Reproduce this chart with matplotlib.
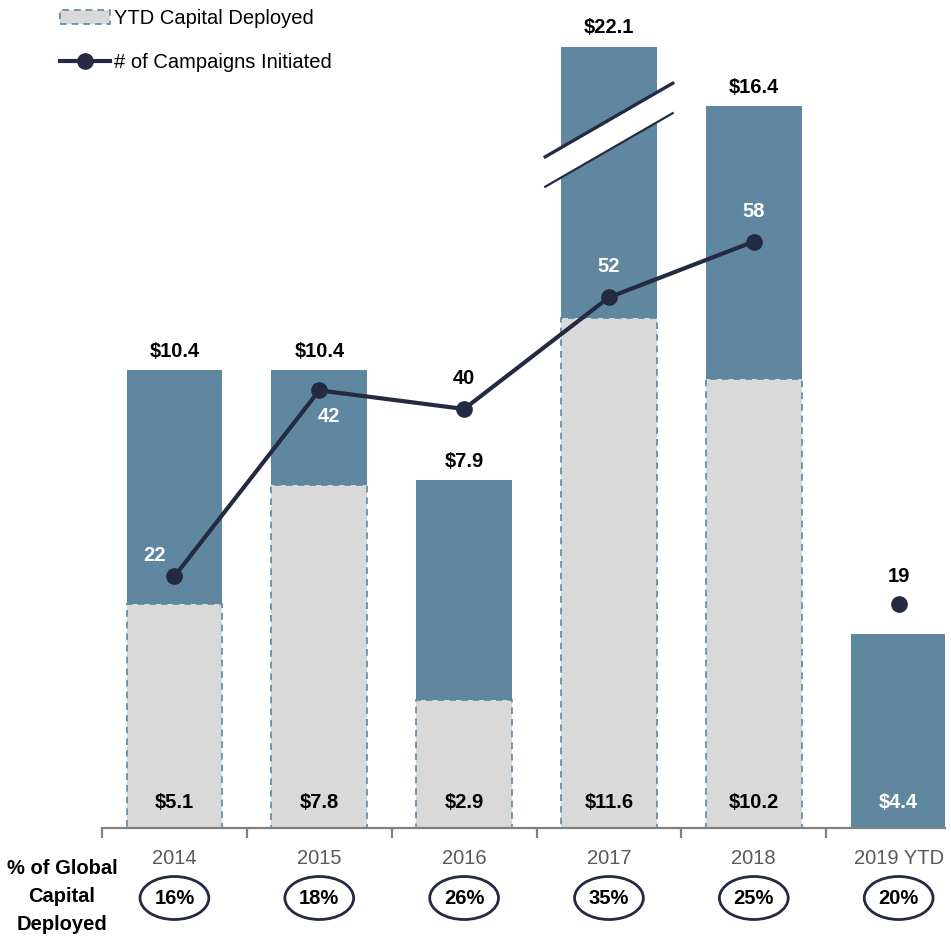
import numpy as np
import matplotlib
matplotlib.use("Agg")
import matplotlib.pyplot as plt
from matplotlib.patches import Patch, Ellipse, Polygon
from matplotlib.lines import Line2D
from matplotlib.transforms import blended_transform_factory
from matplotlib import font_manager

# data
years = ["2014", "2015", "2016", "2017", "2018", "2019 YTD"]
full_capital = [10.4, 10.4, 7.9, 22.1, 16.4, 4.4]
ytd_capital = [5.1, 7.8, 2.9, 11.6, 10.2, None]
campaigns = [22, 42, 40, 52, 58, 19]
pct_global = ["16%", "18%", "26%", "35%", "25%", "20%"]

names = {f.name for f in font_manager.fontManager.ttflist}
fam = [f for f in ["Liberation Sans Narrow", "Liberation Sans", "DejaVu Sans"] if f in names]
plt.rcParams["font.family"] = fam

BLUE = "#5f87a0"
GRAY = "#d9d9d9"
NAVY = "#232a42"
AXIS = "#808080"

W, H = 951, 940
fig = plt.figure(figsize=(W / 100, H / 100), dpi=100)
ax = fig.add_axes([102 / W, (H - 828) / H, (945 - 102) / W, (828 - 36) / H])

ymax = 18.0
cap = 17.75  # bars above this get a break
ax.set_ylim(0, ymax)
ax.set_xlim(-0.5, 5.32)
x = np.arange(len(years))
bw = 0.66

shown = [min(v, cap) for v in full_capital]
ax.bar(x, shown, width=bw, color=BLUE, zorder=1)
for i, v in enumerate(ytd_capital):
    if v is not None:
        ax.bar(i, v, width=bw, color=GRAY, edgecolor=BLUE, linestyle=(0, (4, 3)),
               linewidth=1.2, zorder=2)

# value labels
for i, (v, s) in enumerate(zip(full_capital, shown)):
    if ytd_capital[i] is None:
        continue
    ax.annotate(f"${v}", (i, s), xytext=(0, 7), textcoords="offset points",
                ha="center", va="bottom", fontsize=14.5, fontweight="bold", color="black")
for i, v in enumerate(ytd_capital):
    val = v if v is not None else full_capital[i]
    col = "black" if v is not None else "white"
    ax.annotate(f"${val}", (i, 0), xytext=(0, 18), textcoords="offset points",
                ha="center", va="center", fontsize=14.5, fontweight="bold", color=col)

# break marks on capped bar
for i, v in enumerate(full_capital):
    if v > cap:
        bx0, bx1 = i - 0.44, i + 0.44
        yc, slope, gap = 15.75, 1.9, 0.68
        top = [yc + 0.34 + slope * (bx - i) for bx in (bx0, bx1)]
        bot = [t - gap for t in top]
        ax.add_patch(Polygon([[bx0, top[0]], [bx1, top[1]], [bx1, bot[1]], [bx0, bot[0]]],
                             closed=True, color="white", zorder=3, clip_on=False))
        ax.plot([bx0, bx1], top, color=NAVY, lw=2.4, zorder=4, clip_on=False)
        ax.plot([bx0, bx1], bot, color=NAVY, lw=1.6, zorder=4, clip_on=False)

# campaigns line on secondary scale
ax2 = ax.twinx()
ax2.set_ylim(-5.05, 80.1)
ax2.axis("off")
ax2.plot(x[:5], campaigns[:5], color=NAVY, lw=3, marker="o", ms=11, zorder=5)
ax2.plot(x[5], campaigns[5], color=NAVY, marker="o", ms=11, ls="none", zorder=5)
lab_off = [(-14, 15), (7, -19), (0, 22), (0, 22), (0, 22), (0, 20)]
lab_col = ["white", "white", "black", "white", "white", "black"]
for i, n in enumerate(campaigns):
    ax2.annotate(str(n), (i, n), xytext=lab_off[i], textcoords="offset points",
                 ha="center", va="center", fontsize=14.5, fontweight="bold", color=lab_col[i])

# axes styling
for s in ["top", "right", "left"]:
    ax.spines[s].set_visible(False)
ax.spines["bottom"].set_color(AXIS)
ax.spines["bottom"].set_linewidth(1.6)
ax.set_yticks([])
ax.set_xticks(x)
ax.set_xticklabels(years, fontsize=14.5, color="#595959")
ax.tick_params(axis="x", which="major", length=0, pad=15)
ax.set_xticks(np.arange(-0.5, 5, 1), minor=True)
ax.tick_params(axis="x", which="minor", length=7, width=1.6, color=AXIS, direction="out")

# % of global capital row
trans = blended_transform_factory(ax.transData, fig.transFigure)
yrow = 1 - 898 / H
for i, p in enumerate(pct_global):
    ax.add_patch(Ellipse((i, yrow), 0.475, 43 / H, transform=trans, fc="white",
                         ec=NAVY, lw=2, clip_on=False))
    ax.text(i, yrow, p, transform=trans, ha="center", va="center", fontsize=14.5,
            fontweight="bold", color="black")
fig.text(62 / W, 1 - 897 / H, "% of Global\nCapital\nDeployed", ha="center", va="center",
         fontsize=14.5, fontweight="bold", linespacing=1.6)

# legend
handles = [Patch(facecolor=GRAY, edgecolor=BLUE, linestyle=(0, (4, 3)), linewidth=1.2),
           Line2D([], [], color=NAVY, lw=3, marker="o", ms=11)]
fig.legend(handles, ["YTD Capital Deployed", "# of Campaigns Initiated"],
           loc="upper left", bbox_to_anchor=(42 / W, 1.0 + 9 / H), frameon=False,
           fontsize=14.5, handlelength=2.5, handletextpad=0.2, labelspacing=1.25)

fig.savefig("out.png", dpi=100)
